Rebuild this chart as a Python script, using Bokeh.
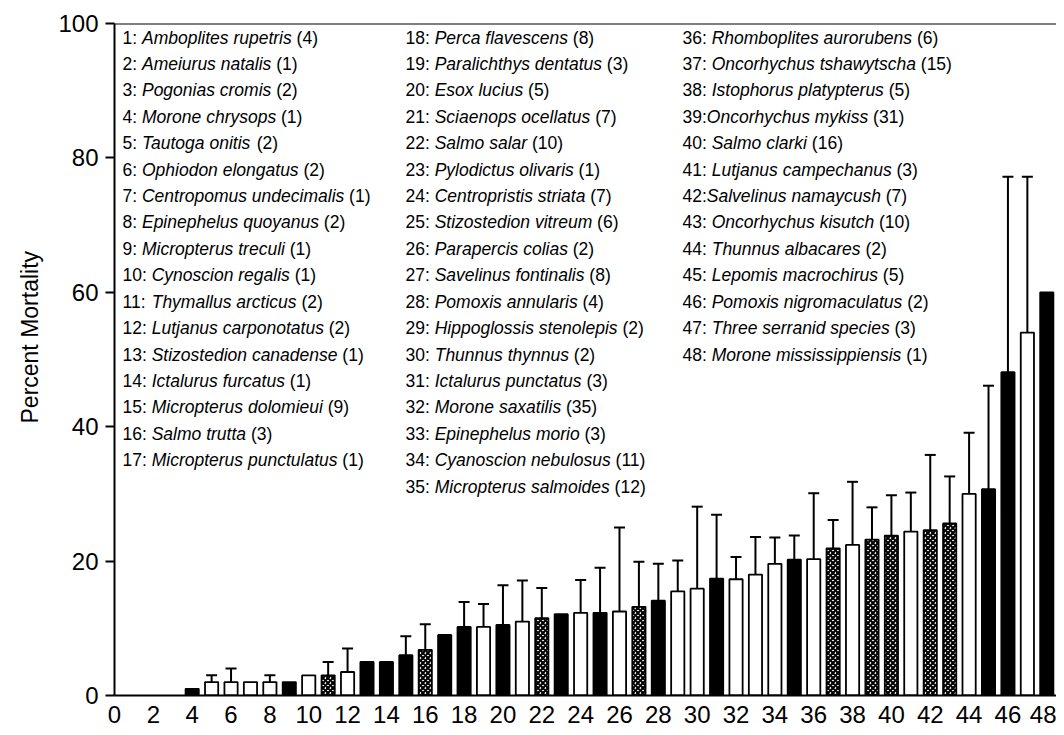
from bokeh.plotting import figure
from bokeh.models import ColumnDataSource, Whisker, TeeHead, Span, FixedTicker, Range1d, Title
from bokeh.core.properties import value
from bokeh.embed import file_html
from bokeh.resources import INLINE

# ---------------- data ----------------
species_id = list(range(1, 49))
mortality = [0, 0, 0, 1.0, 2.0, 2.0, 2.0, 2.0, 2.0, 3.0,
             3.0, 3.5, 5.0, 5.0, 6.0, 6.8, 9.0, 10.2, 10.2, 10.5,
             11.0, 11.5, 12.1, 12.3, 12.3, 12.5, 13.2, 14.1, 15.5, 15.9,
             17.4, 17.3, 18.0, 19.6, 20.2, 20.3, 21.9, 22.4, 23.2, 23.8,
             24.4, 24.6, 25.6, 30.0, 30.7, 48.1, 54.0, 60.0]
sd_upper = [0, 0, 0, 0, 1.0, 2.0, 0, 1.0, 0, 0,
            2.0, 3.5, 0, 0, 2.8, 3.8, 0, 3.7, 3.4, 5.9,
            6.1, 4.5, 0, 4.9, 6.7, 12.5, 6.7, 5.5, 4.6, 12.2,
            9.5, 3.3, 5.6, 3.9, 3.6, 9.8, 4.2, 9.4, 4.8, 6.0,
            5.8, 11.2, 7.0, 9.1, 15.4, 29.1, 23.2, 0]
# B = solid black, W = open, X = cross-hatched
bar_type = ["B", "B", "B", "B", "W", "W", "W", "W", "B", "W",
            "X", "W", "B", "B", "B", "X", "B", "B", "W", "B",
            "W", "X", "B", "W", "B", "W", "X", "B", "W", "W",
            "B", "W", "W", "W", "B", "W", "X", "W", "X", "X",
            "W", "X", "X", "W", "B", "B", "W", "B"]
species_names = [
    "Amboplites rupetris", "Ameiurus natalis", "Pogonias cromis", "Morone chrysops",
    "Tautoga onitis", "Ophiodon elongatus", "Centropomus undecimalis", "Epinephelus quoyanus",
    "Micropterus treculi", "Cynoscion regalis", "Thymallus arcticus", "Lutjanus carponotatus",
    "Stizostedion canadense", "Ictalurus furcatus", "Micropterus dolomieui", "Salmo trutta",
    "Micropterus punctulatus", "Perca flavescens", "Paralichthys dentatus", "Esox lucius",
    "Sciaenops ocellatus", "Salmo salar", "Pylodictus olivaris", "Centropristis striata",
    "Stizostedion vitreum", "Parapercis colias", "Savelinus fontinalis", "Pomoxis annularis",
    "Hippoglossis stenolepis", "Thunnus thynnus", "Ictalurus punctatus", "Morone saxatilis",
    "Epinephelus morio", "Cyanoscion nebulosus", "Micropterus salmoides", "Rhomboplites aurorubens",
    "Oncorhychus tshawytscha", "Istophorus platypterus", "Oncorhychus mykiss", "Salmo clarki",
    "Lutjanus campechanus", "Salvelinus namaycush", "Oncorhychus kisutch", "Thunnus albacares",
    "Lepomis macrochirus", "Pomoxis nigromaculatus", "Three serranid species", "Morone mississippiensis"]
study_counts = [4, 1, 2, 1, 2, 2, 1, 2, 1, 1, 2, 2, 1, 1, 9, 3, 1,
                8, 3, 5, 7, 10, 1, 7, 6, 2, 8, 4, 2, 2, 3, 35, 3, 11, 12,
                6, 15, 5, 31, 16, 3, 7, 10, 2, 5, 2, 3, 1]
x_ticks = list(range(0, 49, 2))
y_ticks = [0, 20, 40, 60, 80, 100]

# ---------------- helpers ----------------
FONT = "Liberation Sans"
LEG_SIZE = 17.5
W = {" ": 278, "(": 333, ")": 333, ":": 278}
W.update({d: 556 for d in "0123456789"})
W.update(dict(zip("ABCDEFGHIJKLMNOPQRSTUVWXYZ",
                  [667, 667, 722, 722, 667, 611, 778, 722, 278, 500, 667, 556, 833,
                   722, 778, 667, 778, 722, 667, 611, 722, 667, 944, 667, 667, 611])))
W.update(dict(zip("abcdefghijklmnopqrstuvwxyz",
                  [556, 556, 500, 556, 556, 278, 556, 556, 222, 222, 500, 222, 833,
                   556, 556, 556, 556, 333, 500, 278, 556, 500, 722, 500, 500, 500])))


def text_w(s):
    return sum(W.get(c, 556) for c in s) / 1000.0 * LEG_SIZE


p = figure(width=1056, height=731, x_range=Range1d(0, 48.5), y_range=Range1d(0, 100),
           output_backend="svg", toolbar_location=None,
           min_border_left=114, min_border_right=0, min_border_top=23, min_border_bottom=36)
p.outline_line_color = None
p.xgrid.visible = False
p.ygrid.visible = False
p.background_fill_color = "white"

# bars
styles = {
    "B": dict(fill_color="black"),
    "W": dict(fill_color="white"),
    "X": dict(fill_color="white", hatch_pattern="diagonal_cross", hatch_color="black",
              hatch_scale=5, hatch_weight=2.2),
}
for t, st in styles.items():
    xs = [i for i, m, b in zip(species_id, mortality, bar_type) if b == t and m > 0]
    ys = [m for i, m, b in zip(species_id, mortality, bar_type) if b == t and m > 0]
    src = ColumnDataSource(dict(x=xs, top=ys))
    p.vbar(x="x", top="top", bottom=0, width=0.68, source=src,
           line_color="black", line_width=1.8, **st)

# error bars (upper only)
ex = [i for i, e in zip(species_id, sd_upper) if e > 0]
elo = [m for m, e in zip(mortality, sd_upper) if e > 0]
eup = [m + e for m, e in zip(mortality, sd_upper) if e > 0]
esrc = ColumnDataSource(dict(base=ex, lower=elo, upper=eup))
p.add_layout(Whisker(source=esrc, base="base", lower="lower", upper="upper",
                     dimension="height", line_color="black", line_width=2,
                     upper_head=TeeHead(size=11, line_width=2, line_color="black"),
                     lower_head=None, level="overlay"))

# top frame line
p.add_layout(Span(location=100, dimension="width", line_color="black", line_width=2))

# legend text (three columns)
col_px = [8, 291, 568]
col_of = [0 if i <= 17 else (1 if i <= 35 else 2) for i in species_id]
row_of = [i - 1 if i <= 17 else (i - 18 if i <= 35 else i - 36) for i in species_id]
LEG_TOP = 97.9
LEG_STEP = 3.93
pre_txt, pre_off, sp_off, cnt_txt, cnt_off, ly = [], [], [], [], [], []
for i, name, n, c, r in zip(species_id, species_names, study_counts, col_of, row_of):
    pre = f"{i}:"
    gap = 0 if i in (39, 42) else W[" "] / 1000.0 * LEG_SIZE
    x0 = col_px[c]
    x1 = x0 + text_w(pre) + gap
    x2 = x1 + text_w(name) + W[" "] / 1000.0 * LEG_SIZE
    pre_txt.append(pre)
    pre_off.append(x0)
    sp_off.append(x1)
    cnt_txt.append(f"({n})")
    cnt_off.append(x2)
    ly.append(LEG_TOP - r * LEG_STEP)

lsrc = ColumnDataSource(dict(x=[0] * 48, y=ly, pre=pre_txt, po=pre_off, sp=species_names,
                             so=sp_off, cnt=cnt_txt, co=cnt_off))
common = dict(source=lsrc, text_font=value(FONT), text_font_size=f"{LEG_SIZE}px",
              text_baseline="middle", text_align="left", text_color="black")
p.text(x="x", y="y", text="pre", x_offset="po", **common)
p.text(x="x", y="y", text="sp", x_offset="so", text_font_style="italic", **common)
p.text(x="x", y="y", text="cnt", x_offset="co", **common)

# axes
p.yaxis.ticker = FixedTicker(ticks=y_ticks)
p.xaxis.ticker = FixedTicker(ticks=x_ticks)
for ax in (p.xaxis[0], p.yaxis[0]):
    ax.axis_line_width = 2
    ax.axis_line_color = "black"
    ax.major_label_text_font = FONT
    ax.major_label_text_font_size = "24px"
    ax.major_label_text_color = "black"
    ax.minor_tick_line_color = None
    ax.major_tick_in = 0
p.yaxis.major_tick_out = 9
p.yaxis.major_tick_line_width = 2
p.yaxis.major_tick_line_color = "black"
p.yaxis.major_label_standoff = 7
p.xaxis.major_tick_out = 0
p.xaxis.major_tick_line_color = None
p.xaxis.major_label_standoff = 10

# y-axis title, placed a little above the frame centre as in the reference
p.add_layout(Title(text="Percent Mortality", align="left", offset=272,
                   text_font=FONT, text_font_size="23px", text_font_style="normal",
                   text_color="black", standoff=26), "left")

open("out.html", "w").write(file_html(p, INLINE))
